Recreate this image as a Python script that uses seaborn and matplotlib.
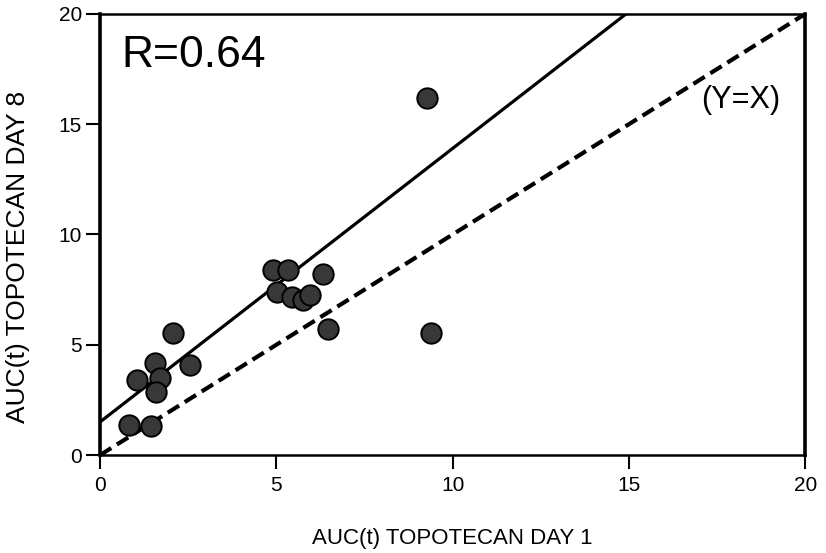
import numpy as np
import pandas as pd
import seaborn as sns
import matplotlib.pyplot as plt

# AUC(t) of topotecan on day 1 vs day 8, one point per patient
auc_day1 = [0.82, 1.45, 1.05, 1.56, 1.70, 1.60, 2.07, 2.55, 4.91, 5.33,
            5.02, 5.45, 5.76, 5.96, 6.33, 6.47, 9.38, 9.26]
auc_day8 = [1.36, 1.32, 3.40, 4.17, 3.50, 2.86, 5.53, 4.08, 8.39, 8.39,
            7.40, 7.17, 7.03, 7.26, 8.20, 5.71, 5.53, 16.20]

# regression line and correlation
fit_intercept = 1.5
fit_slope = 1.24
r_value = 0.64

axis_ticks = [0, 5, 10, 15, 20]

df = pd.DataFrame({"day1": auc_day1, "day8": auc_day8})

sns.set_theme(style="ticks")
plt.rcParams["font.family"] = ["Liberation Sans", "DejaVu Sans"]
plt.rcParams["text.color"] = "black"
plt.rcParams["axes.labelcolor"] = "black"

fig = plt.figure(figsize=(8.26, 5.53), dpi=100)
ax = fig.add_axes([0.121, 0.177, 0.854, 0.798])

# identity line
line_x = np.array([0, 20])
ax.plot(line_x, line_x, color="black", lw=3.0, ls=(0, (3.2, 1.6)),
        solid_capstyle="butt", zorder=2)
# fitted line
ax.plot(line_x, fit_intercept + fit_slope * line_x, color="black", lw=2.3,
        zorder=2)

sns.scatterplot(data=df, x="day1", y="day8", ax=ax, s=215,
                color="#383838", edgecolor="black", linewidth=1.4,
                zorder=3, legend=False)

ax.set_xlim(0, 20)
ax.set_ylim(0, 20)
ax.set_xticks(axis_ticks)
ax.set_yticks(axis_ticks)
ax.set_xticklabels([str(t) for t in axis_ticks])
ax.set_yticklabels([str(t) for t in axis_ticks])
ax.tick_params(axis="both", direction="out", length=10, width=1.5,
               labelsize=15, colors="black")
ax.tick_params(axis="x", pad=5)
ax.tick_params(axis="y", pad=3)

for side in ["left", "right"]:
    ax.spines[side].set_linewidth(2.6)
for side in ["top", "bottom"]:
    ax.spines[side].set_linewidth(1.8)
for sp in ax.spines.values():
    sp.set_color("black")

ax.set_xlabel("AUC(t) TOPOTECAN DAY 1", fontsize=16, labelpad=24)
ax.set_ylabel("AUC(t) TOPOTECAN DAY 8", fontsize=19)
ax.yaxis.set_label_coords(-0.099, 0.45)

ax.text(0.03, 0.905, f"R={r_value:.2f}", transform=ax.transAxes,
        fontsize=32, va="center", ha="left")
ax.text(0.908, 0.805, "(Y=X)", transform=ax.transAxes,
        fontsize=22, va="center", ha="center")

fig.savefig("out.png", dpi=100)
